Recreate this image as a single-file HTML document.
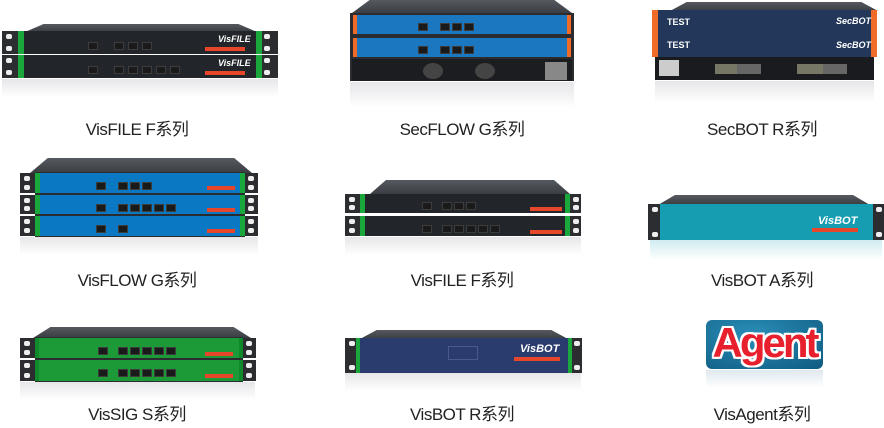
<!DOCTYPE html>
<html><head><meta charset="utf-8"><style>
body{margin:0;width:884px;height:428px;background:#fff;position:relative;overflow:hidden;font-family:"Liberation Sans","Noto Sans CJK SC",sans-serif}
div{position:absolute;box-sizing:border-box}
.lid{background:linear-gradient(#555a60,#3a3d42);clip-path:polygon(8% 0,92% 0,100% 100%,0 100%)}
.ear{background:#2b2d31}
.ear:before,.ear:after{content:"";position:absolute;left:4px;width:6px;height:5px;background:#eee;border-radius:2px}
.ear:before{top:3px}.ear:after{bottom:3px}
.lbl{font-size:17px;color:#222;text-align:center;width:260px;letter-spacing:-0.5px}
.port{background:#1a1a1a;border:1px solid #3c3c3c;width:10px;height:8px}
.refl{background:linear-gradient(rgba(200,200,205,0.45),rgba(255,255,255,0))}
.tag{background:#e8462a;height:4px;width:40px}
.wt{color:#fff;font-size:9px;font-style:italic;font-weight:bold}
</style></head><body>

<!-- Row1 col1 VisFILE -->
<div class="lid" style="left:25px;top:24px;width:232px;height:8px"></div>
<div class="ear" style="left:2px;top:31px;width:18px;height:23px"></div>
<div class="ear" style="left:260px;top:31px;width:18px;height:23px"></div>
<div class="ear" style="left:2px;top:55px;width:18px;height:23px"></div>
<div class="ear" style="left:260px;top:55px;width:18px;height:23px"></div>
<div style="left:18px;top:31px;width:244px;height:23px;background:#22262b;border-left:6px solid #1aa83c;border-right:6px solid #1aa83c"></div>
<div style="left:18px;top:55px;width:244px;height:23px;background:#22262b;border-left:6px solid #1aa83c;border-right:6px solid #1aa83c"></div>
<div class="port" style="left:88px;top:42px"></div><div class="port" style="left:114px;top:42px"></div><div class="port" style="left:128px;top:42px"></div><div class="port" style="left:142px;top:42px"></div>
<div class="port" style="left:88px;top:66px"></div><div class="port" style="left:114px;top:66px"></div><div class="port" style="left:128px;top:66px"></div><div class="port" style="left:142px;top:66px"></div><div class="port" style="left:156px;top:66px"></div><div class="port" style="left:170px;top:66px"></div>
<div class="tag" style="left:205px;top:47px"></div><div class="tag" style="left:205px;top:71px"></div>
<div class="wt" style="left:218px;top:34px">VisFILE</div><div class="wt" style="left:218px;top:58px">VisFILE</div>
<div class="refl" style="left:2px;top:79px;width:276px;height:18px"></div>
<div class="lbl" style="left:7px;top:115px">VisFILE F系列</div>

<!-- Row1 col2 SecFLOW -->
<div class="lid" style="left:352px;top:0px;width:220px;height:13px"></div>
<div style="left:350px;top:13px;width:224px;height:68px;background:#2a2c30"></div>
<div style="left:353px;top:15px;width:218px;height:19px;background:#1b78c0;border-left:4px solid #f06a28;border-right:4px solid #f06a28"></div>
<div style="left:353px;top:38px;width:218px;height:19px;background:#1b78c0;border-left:4px solid #f06a28;border-right:4px solid #f06a28"></div>
<div style="left:352px;top:59px;width:220px;height:22px;background:#1c1d20"></div>
<div class="port" style="left:418px;top:23px"></div><div class="port" style="left:440px;top:23px"></div><div class="port" style="left:452px;top:23px"></div><div class="port" style="left:464px;top:23px"></div>
<div class="port" style="left:418px;top:46px"></div><div class="port" style="left:440px;top:46px"></div><div class="port" style="left:452px;top:46px"></div><div class="port" style="left:464px;top:46px"></div>
<div style="left:423px;top:63px;width:20px;height:16px;border-radius:50%;background:#444"></div>
<div style="left:475px;top:63px;width:20px;height:16px;border-radius:50%;background:#444"></div>
<div style="left:545px;top:62px;width:22px;height:18px;background:#888"></div>
<div class="refl" style="left:350px;top:82px;width:224px;height:26px"></div>
<div class="lbl" style="left:332px;top:115px">SecFLOW G系列</div>

<!-- Row1 col3 SecBOT -->
<div class="lid" style="left:670px;top:2px;width:208px;height:9px"></div>
<div style="left:652px;top:10px;width:225px;height:47px;background:#22375a;border-left:6px solid #f06a28;border-right:6px solid #f06a28"></div>
<div style="left:655px;top:57px;width:219px;height:23px;background:#1a1b1e"></div>
<div style="left:659px;top:60px;width:20px;height:16px;background:#ccc"></div>
<div style="left:715px;top:64px;width:30px;height:10px;background:#776"></div>
<div style="left:737px;top:64px;width:24px;height:10px;background:#666"></div>
<div style="left:797px;top:64px;width:30px;height:10px;background:#776"></div>
<div style="left:823px;top:64px;width:24px;height:10px;background:#666"></div>
<div class="wt" style="left:836px;top:16px">SecBOT</div><div class="wt" style="left:836px;top:40px">SecBOT</div>
<div class="wt" style="left:667px;top:17px;font-style:normal">TEST</div><div class="wt" style="left:667px;top:40px;font-style:normal">TEST</div>
<div class="refl" style="left:655px;top:81px;width:219px;height:22px"></div>
<div class="lbl" style="left:632px;top:115px">SecBOT R系列</div>

<!-- Row2 col1 VisFLOW -->
<div class="lid" style="left:30px;top:158px;width:222px;height:15px"></div>
<div class="ear" style="left:20px;top:173px;width:16px;height:20px"></div>
<div class="ear" style="left:20px;top:195px;width:16px;height:19px"></div>
<div class="ear" style="left:20px;top:216px;width:16px;height:20px"></div>
<div class="ear" style="left:244px;top:173px;width:14px;height:20px"></div>
<div class="ear" style="left:244px;top:195px;width:14px;height:19px"></div>
<div class="ear" style="left:244px;top:216px;width:14px;height:20px"></div>
<div style="left:35px;top:172px;width:210px;height:65px;background:#2a2c30"></div>
<div style="left:35px;top:173px;width:210px;height:20px;background:#0b78c4;border-left:5px solid #1aa83c;border-right:5px solid #1aa83c"></div>
<div style="left:35px;top:195px;width:210px;height:19px;background:#0b78c4;border-left:5px solid #1aa83c;border-right:5px solid #1aa83c"></div>
<div style="left:35px;top:216px;width:210px;height:20px;background:#0b78c4;border-left:5px solid #1aa83c;border-right:5px solid #1aa83c"></div>
<div class="port" style="left:96px;top:182px"></div><div class="port" style="left:118px;top:182px"></div><div class="port" style="left:130px;top:182px"></div><div class="port" style="left:142px;top:182px"></div>
<div class="port" style="left:96px;top:204px"></div><div class="port" style="left:118px;top:204px"></div><div class="port" style="left:130px;top:204px"></div><div class="port" style="left:142px;top:204px"></div><div class="port" style="left:154px;top:204px"></div><div class="port" style="left:166px;top:204px"></div>
<div class="port" style="left:96px;top:225px"></div><div class="port" style="left:118px;top:225px"></div>
<div class="tag" style="left:207px;top:186px;width:28px"></div><div class="tag" style="left:207px;top:208px;width:28px"></div><div class="tag" style="left:207px;top:229px;width:28px"></div>
<div class="refl" style="left:20px;top:237px;width:238px;height:18px"></div>
<div class="lbl" style="left:7px;top:266px">VisFLOW G系列</div>

<!-- Row2 col2 VisFILE -->
<div class="lid" style="left:370px;top:180px;width:200px;height:14px"></div>
<div class="ear" style="left:345px;top:194px;width:16px;height:19px"></div>
<div class="ear" style="left:569px;top:194px;width:12px;height:19px"></div>
<div class="ear" style="left:345px;top:216px;width:16px;height:20px"></div>
<div class="ear" style="left:569px;top:216px;width:12px;height:20px"></div>
<div style="left:360px;top:194px;width:210px;height:19px;background:#22262b;border-left:5px solid #1aa83c;border-right:5px solid #1aa83c"></div>
<div style="left:360px;top:216px;width:210px;height:20px;background:#22262b;border-left:5px solid #1aa83c;border-right:5px solid #1aa83c"></div>
<div class="port" style="left:422px;top:202px"></div><div class="port" style="left:442px;top:202px"></div><div class="port" style="left:454px;top:202px"></div><div class="port" style="left:466px;top:202px"></div>
<div class="port" style="left:422px;top:225px"></div><div class="port" style="left:442px;top:225px"></div><div class="port" style="left:454px;top:225px"></div><div class="port" style="left:466px;top:225px"></div><div class="port" style="left:478px;top:225px"></div><div class="port" style="left:490px;top:225px"></div>
<div class="tag" style="left:530px;top:207px;width:32px"></div><div class="tag" style="left:530px;top:230px;width:32px"></div>
<div class="refl" style="left:345px;top:237px;width:236px;height:18px"></div>
<div class="lbl" style="left:332px;top:266px">VisFILE F系列</div>

<!-- Row2 col3 VisBOT A -->
<div class="lid" style="left:658px;top:195px;width:212px;height:10px"></div>
<div class="ear" style="left:648px;top:204px;width:14px;height:36px"></div>
<div class="ear" style="left:872px;top:204px;width:12px;height:36px"></div>
<div style="left:660px;top:204px;width:213px;height:36px;background:#179db1"></div>
<div class="wt" style="left:818px;top:215px;font-size:11px">VisBOT</div>
<div class="tag" style="left:812px;top:228px;width:46px"></div>
<div class="refl" style="left:650px;top:240px;width:232px;height:20px;background:linear-gradient(rgba(120,200,210,0.35),rgba(255,255,255,0))"></div>
<div class="lbl" style="left:632px;top:266px">VisBOT A系列</div>

<!-- Row3 col1 VisSIG -->
<div class="lid" style="left:33px;top:327px;width:218px;height:11px"></div>
<div class="ear" style="left:20px;top:338px;width:16px;height:20px"></div>
<div class="ear" style="left:20px;top:360px;width:16px;height:21px"></div>
<div class="ear" style="left:242px;top:338px;width:14px;height:20px"></div>
<div class="ear" style="left:242px;top:360px;width:14px;height:21px"></div>
<div style="left:35px;top:337px;width:208px;height:45px;background:#2a2c30"></div>
<div style="left:35px;top:338px;width:208px;height:20px;background:#1d9a38;border-left:4px solid #0f8a2a;border-right:4px solid #0f8a2a"></div>
<div style="left:35px;top:360px;width:208px;height:21px;background:#1d9a38;border-left:4px solid #0f8a2a;border-right:4px solid #0f8a2a"></div>
<div class="port" style="left:98px;top:347px"></div><div class="port" style="left:118px;top:347px"></div><div class="port" style="left:130px;top:347px"></div><div class="port" style="left:142px;top:347px"></div><div class="port" style="left:154px;top:347px"></div><div class="port" style="left:166px;top:347px"></div>
<div class="port" style="left:98px;top:369px"></div><div class="port" style="left:118px;top:369px"></div><div class="port" style="left:130px;top:369px"></div><div class="port" style="left:142px;top:369px"></div><div class="port" style="left:154px;top:369px"></div><div class="port" style="left:166px;top:369px"></div>
<div class="tag" style="left:205px;top:352px;width:28px"></div><div class="tag" style="left:205px;top:374px;width:28px"></div>
<div class="refl" style="left:20px;top:382px;width:235px;height:18px"></div>
<div class="lbl" style="left:7px;top:400px">VisSIG S系列</div>

<!-- Row3 col2 VisBOT R -->
<div class="lid" style="left:360px;top:330px;width:208px;height:9px"></div>
<div class="ear" style="left:345px;top:338px;width:14px;height:35px"></div>
<div class="ear" style="left:570px;top:338px;width:12px;height:35px"></div>
<div style="left:356px;top:338px;width:216px;height:35px;background:#2a3b6e;border-left:4px solid #1aa83c;border-right:4px solid #1aa83c"></div>
<div style="left:448px;top:346px;width:30px;height:14px;border:1px solid #4a5a90"></div>
<div class="wt" style="left:520px;top:343px;font-size:11px">VisBOT</div>
<div class="tag" style="left:514px;top:357px;width:46px"></div>
<div class="refl" style="left:345px;top:373px;width:236px;height:18px"></div>
<div class="lbl" style="left:332px;top:400px">VisBOT R系列</div>

<!-- Row3 col3 Agent -->
<div style="left:706px;top:320px;width:117px;height:49px;border-radius:6px;background:radial-gradient(ellipse at 40% 30%,#2a8fb8,#0f5a80)"></div>
<div style="left:706px;top:317px;width:117px;text-align:center;font-size:42px;font-weight:bold;color:#e8202e;letter-spacing:-3px;text-shadow:2px 0 #fff,-2px 0 #fff,0 2px #fff,0 -2px #fff,2px 2px #fff,-2px -2px #fff,2px -2px #fff,-2px 2px #fff;line-height:52px">Agent</div>
<div class="refl" style="left:706px;top:370px;width:117px;height:18px;background:linear-gradient(rgba(150,180,200,0.3),rgba(255,255,255,0))"></div>
<div class="lbl" style="left:632px;top:400px">VisAgent系列</div>

</body></html>
